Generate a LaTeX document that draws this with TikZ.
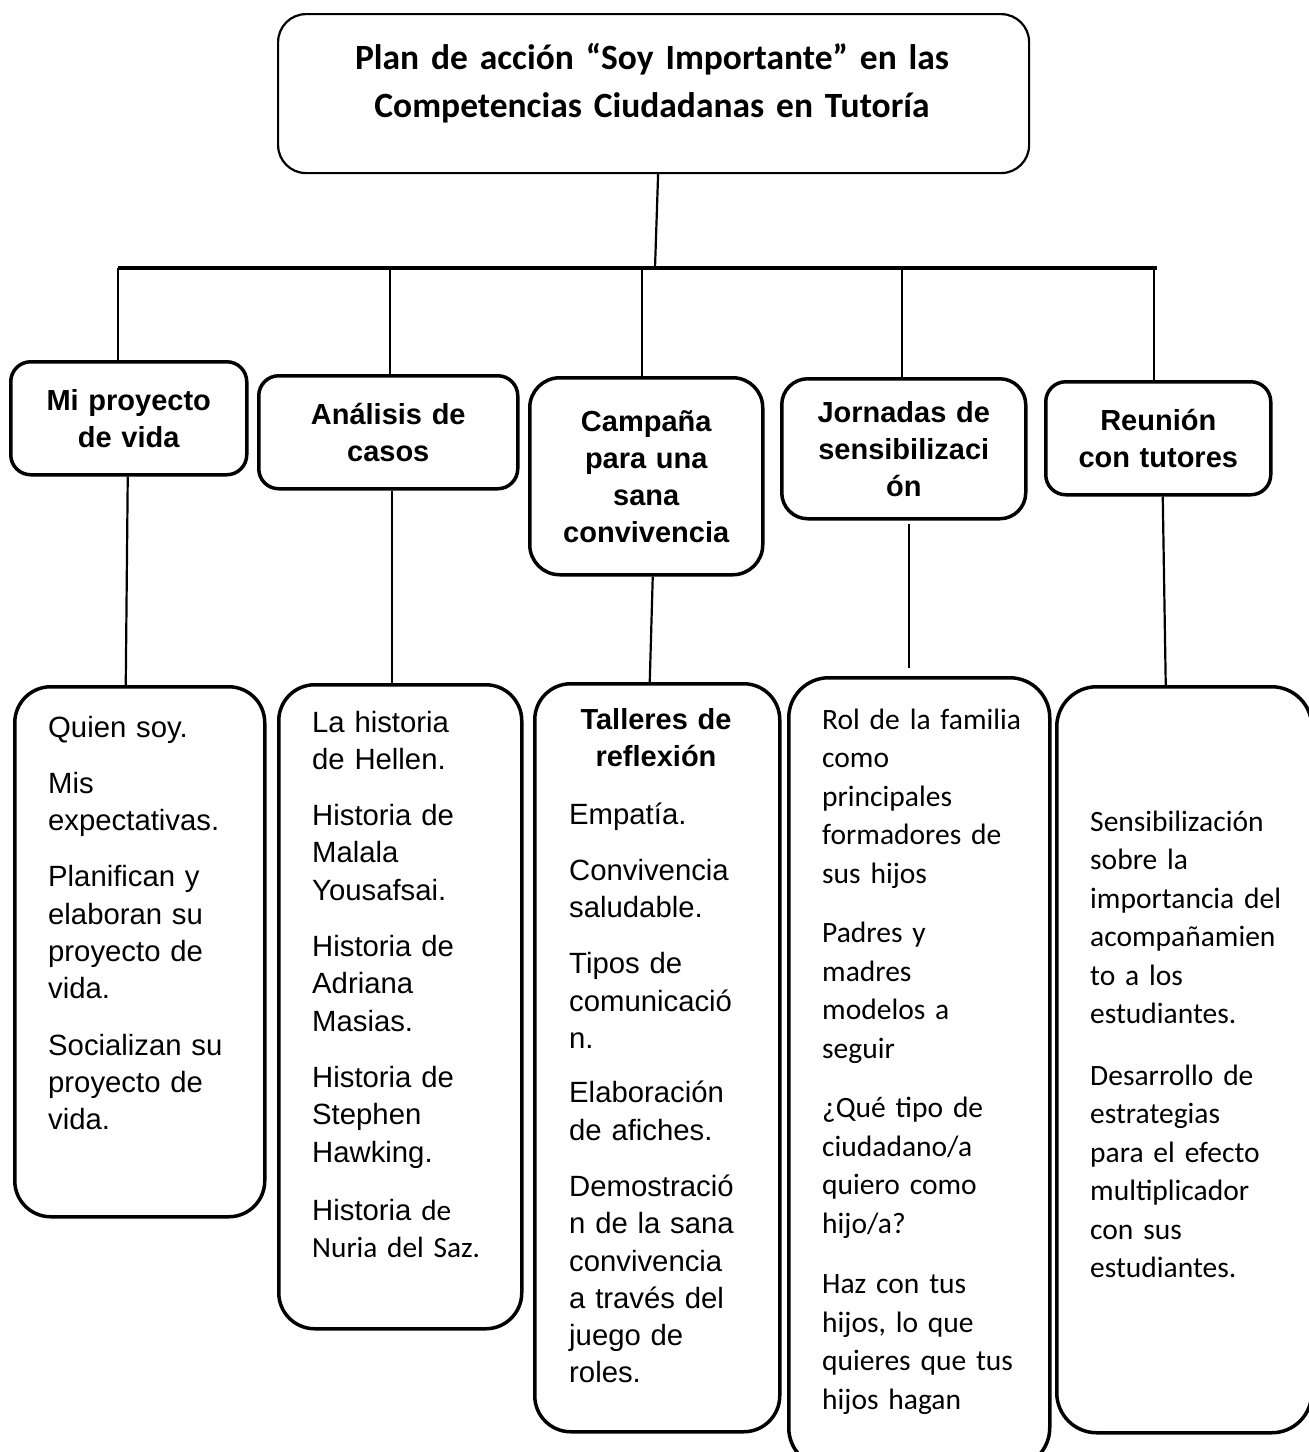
\documentclass[tikz,border=0pt]{standalone}
\usepackage{fontspec}
\setmainfont{Liberation Sans}
\newfontfamily\arialf{Liberation Sans}
\newfontfamily\calf{Carlito}
\begin{document}
\begin{tikzpicture}[x=1pt,y=-1pt,line join=round,
  box1/.style={draw, line width=3.5, rounded corners=20, inner sep=0, align=center, anchor=north west, font=\arialf\bfseries\fontsize{29}{37}\selectfont},
  box2/.style={draw, line width=3.5, rounded corners=36, inner sep=0, anchor=north west},
  txtA/.style={inner sep=0, anchor=base west, align=left, font=\arialf\fontsize{29.3}{37.3}\selectfont},
  txtC/.style={inner sep=0, anchor=base west, align=left, font=\calf\fontsize{29.5}{38.5}\selectfont},
  conn/.style={line width=2.2},
  bus/.style={line width=4.5}]
\useasboundingbox (0,0) rectangle (1309,1452);

% title
\node[draw, line width=2.2, rounded corners=28, anchor=north west, minimum width=751, minimum height=159, inner sep=0] (title) at (277,13) {};
\node[inner sep=0, anchor=base, text width=730, align=center, font=\calf\bfseries\fontsize{35.5}{48}\selectfont] (titletext) at (652,69) {Plan de acción “Soy Importante” en las\\Competencias Ciudadanas en Tutoría};

% level 1
\node[box1, minimum width=236, minimum height=113, text width=224] (m1) at (9,360) {Mi proyecto\\de vida};
\node[box1, minimum width=259, minimum height=113, text width=240] (m2) at (257,374) {Análisis de\\casos};
\node[box1, rounded corners=30, minimum width=233, minimum height=197, text width=224] (m3) at (528,376) {Campaña\\para una\\sana\\convivencia};
\node[box1, rounded corners=26, minimum width=244, minimum height=140, text width=234] (m4) at (780,377) {Jornadas de\\sensibilizaci\\ón};
\node[box1, minimum width=225, minimum height=113, text width=218] (m5) at (1044,380) {Reunión\\con tutores};

% level 2
\node[box2, minimum width=250, minimum height=530] (d1) at (13,685) {};
\node[box2, minimum width=243, minimum height=644] (d2) at (277,683) {};
\node[box2, minimum width=245, minimum height=748] (d3) at (533,682) {};
\node[box2, rounded corners=40, minimum width=261, minimum height=790] (d4) at (787,676) {};
\node[box2, rounded corners=40, minimum width=255, minimum height=746] (d5) at (1055,685) {};

% level 2 texts
\node[txtA, text width=212] (x1) at (48,737) {Quien soy.\\[19pt]Mis\\expectativas.\\[19pt]Planifican y\\elaboran su\\proyecto de\\vida.\\[19pt]Socializan su\\proyecto de\\vida.};
\node[txtA, text width=206] (x2) at (312,732) {La historia\\de Hellen.\\[19pt]Historia de\\Malala\\Yousafsai.\\[19pt]Historia de\\Adriana\\Masias.\\[19pt]Historia de\\Stephen\\Hawking.\\[21pt]Historia{\calf\ de}\\{\calf Nuria del Saz.}};
\node[inner sep=0, anchor=base, text width=236, align=center, font=\arialf\bfseries\fontsize{29}{37}\selectfont] (h3) at (656,729) {Talleres de\\reflexión};
\node[txtA, text width=208] (x3) at (569,824) {Empatía.\\[19pt]Convivencia\\saludable.\\[19pt]Tipos de\\comunicació\\n.\\[17pt]Elaboración\\de afiches.\\[19pt]Demostració\\n de la sana\\convivencia\\a través del\\juego de\\roles.};
\node[txtC, text width=222] (x4) at (822,729) {Rol de la familia\\como\\principales\\formadores de\\sus hijos\\[21pt]Padres y\\madres\\modelos a\\seguir\\[21pt]¿Qué tipo de\\ciudadano/a\\quiero como\\hijo/a?\\[22pt]Haz con tus\\hijos, lo que\\quieres que tus\\hijos hagan};
\node[txtC, text width=215] (x5) at (1090,831) {Sensibilización\\sobre la\\importancia del\\acompañamien\\to a los\\estudiantes.\\[23pt]Desarrollo de\\estrategias\\para el efecto\\multiplicador\\con sus\\estudiantes.};

% connectors
\coordinate (bL) at (118,268);
\coordinate (bR) at (1157,268);
\coordinate (bT) at (655,268);
\coordinate (b2) at (390,268);
\coordinate (b3) at (642,268);
\coordinate (b4) at (902,268);
\coordinate (b5) at (1154,268);
\draw[bus] (bL) -- (bR);
\draw[conn] ([xshift=4.5]title.south) -- (bT);
\draw[conn] (bL) -- (bL |- m1.north);
\draw[conn] (b2) -- (b2 |- m2.north);
\draw[conn] (b3) -- (b3 |- m3.north);
\draw[conn] (b4) -- (b4 |- m4.north);
\draw[conn] (b5) -- (b5 |- m5.north);
\draw[conn] ([xshift=-1]m1.south) -- ([xshift=-14]d1.north);
\draw[conn] ([xshift=3.5]m2.south) -- ([xshift=-8.5]d2.north);
\draw[conn] ([xshift=6.5]m3.south) -- ([xshift=-7.5]d3.north);
\draw[conn, shorten <=3, shorten >=8] ([xshift=5]m4.south) -- ([xshift=-10.5]d4.north);
\draw[conn] ([xshift=4.5]m5.south) -- ([xshift=-18.5]d5.north);
\end{tikzpicture}
\end{document}
